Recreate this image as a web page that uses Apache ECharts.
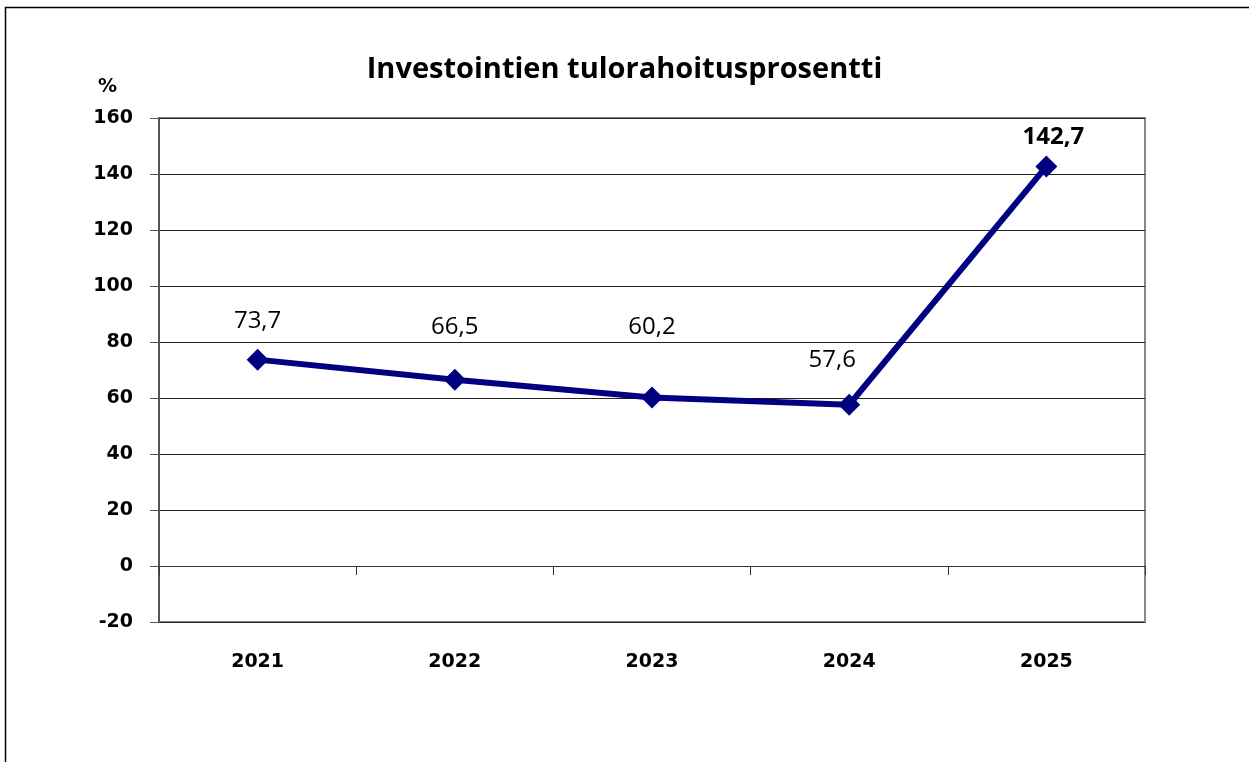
<!DOCTYPE html>
<html><head><meta charset="utf-8">
<script src="https://cdn.jsdelivr.net/npm/echarts@6/dist/echarts.min.js"></script>
<style>html,body{margin:0;padding:0;background:#fff}#c{width:1249px;height:762px}</style>
</head><body><div id="c"></div>
<script>
const titleText = 'Investointien tulorahoitusprosentti';
const categories = ['2021', '2022', '2023', '2024', '2025'];
const values = [73.7, 66.5, 60.2, 57.6, 142.7];
const labelTexts = ['73,7', '66,5', '60,2', '57,6', '142,7'];
const labelOffsets = [[0, -38], [0, -53], [0, -70], [-17, -45], [7, -29]];
const labelWeights = ['normal', 'normal', 'normal', 'normal', 'bold'];
const yTicks = { min: -20, max: 160, interval: 20 };
const yName = '%';

const titleFont = '"Open Sans", Lato, sans-serif';
const axisFont = '"DejaVu Sans", Verdana, sans-serif';
const chart = echarts.init(document.getElementById('c'));
chart.setOption({
  animation: false,
  backgroundColor: '#fff',
  graphic: [{
    type: 'rect', shape: { x: 5.5, y: 7.5, width: 1300, height: 800 },
    style: { fill: 'none', stroke: '#000', lineWidth: 1.5 }, z: 0
  }],
  title: {
    text: titleText, left: 'center', top: 50,
    textStyle: { fontFamily: titleFont, fontSize: 29, fontWeight: 'bold', color: '#000' }
  },
  grid: { left: 159, right: 104, top: 118, bottom: 140, show: true, borderColor: '#888', borderWidth: 2 },
  xAxis: [{
    type: 'category', data: categories, position: 'bottom',
    axisLine: { show: false, onZero: false }, axisTick: { show: false },
    axisLabel: { margin: 31, fontFamily: axisFont, fontSize: 19, fontWeight: 'bold', color: '#000' }
  }, {
    type: 'category', data: categories, position: 'bottom',
    axisLine: { show: true, onZero: true, lineStyle: { color: '#333', width: 1 } },
    axisTick: { show: true, interval: 0, length: 9, lineStyle: { color: '#333' } },
    axisLabel: { show: false }
  }],
  yAxis: {
    type: 'value', min: yTicks.min, max: yTicks.max, interval: yTicks.interval,
    name: yName, nameLocation: 'end', nameGap: 21,
    nameTextStyle: { fontFamily: axisFont, fontSize: 19, fontWeight: 'bold', color: '#000', align: 'right', padding: [0, 42, 0, 0] },
    axisLine: { show: true, lineStyle: { color: '#555', width: 2 } },
    axisTick: { show: true, length: 9, lineStyle: { color: '#555' } },
    axisLabel: { margin: 26, fontFamily: axisFont, fontSize: 19, fontWeight: 'bold', color: '#000' },
    splitLine: { show: true, lineStyle: { color: '#222', width: 1 } }
  },
  series: [{
    type: 'line', xAxisIndex: 0,
    data: values.map((v, i) => ({
      value: v,
      label: { show: true, position: 'inside', offset: labelOffsets[i], formatter: labelTexts[i], fontWeight: labelWeights[i] }
    })),
    symbol: 'diamond', symbolSize: 22,
    lineStyle: { color: '#000080', width: 6 },
    itemStyle: { color: '#000080' },
    label: { fontFamily: titleFont, fontSize: 24, color: '#000' }
  }]
});
</script></body></html>
